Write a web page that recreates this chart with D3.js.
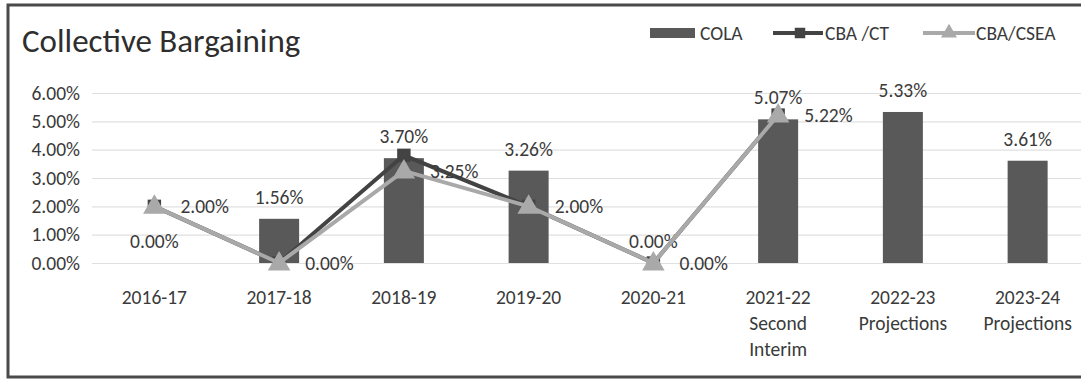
<!DOCTYPE html>
<html>
<head>
<meta charset="utf-8">
<script src="https://cdn.jsdelivr.net/npm/d3@7"></script>
<style>
  body { margin: 0; background: #fff; }
  text { font-family: Carlito, Lato, "Open Sans", sans-serif; fill: #3a3a3a; }
</style>
</head>
<body>
<div id="chart"></div>
<script>
const categories = [
  ['2016-17'], ['2017-18'], ['2018-19'], ['2019-20'], ['2020-21'],
  ['2021-22', 'Second', 'Interim'], ['2022-23', 'Projections'], ['2023-24', 'Projections']
]
const cola = [0.0, 1.56, 3.70, 3.26, 0.0, 5.07, 5.33, 3.61]
const cbaCT = [2.00, 0.00, 3.80, 2.00, 0.00, 5.22, null, null]
const cbaCSEA = [2.00, 0.00, 3.25, 2.00, 0.00, 5.22, null, null]
const yTicks = [0, 1, 2, 3, 4, 5, 6]

const dms = { width: 1081, height: 379 }
const plot = { left: 92, right: 1090, top: 93, bottom: 263 }
const fs = '19.5px'

const colors = { cola: '#595959', ct: '#434343', csea: '#a9a9a9' }

const svg = d3.select('#chart').append('svg')
    .attr('width', dms.width)
    .attr('height', dms.height)

// frame
svg.append('path')
    .attr('d', `M1081,5 H8 V377 H1081`)
    .attr('fill', 'none')
    .attr('stroke', '#4a4a4a')
    .attr('stroke-width', 3)

svg.append('text')
    .attr('x', 22)
    .attr('y', 52)
    .style('font-size', '33px')
    .style('fill', '#2e2e2e')
    .text('Collective Bargaining')

const xScale = d3.scaleBand()
    .domain(d3.range(categories.length))
    .range([plot.left, plot.right])

const yScale = d3.scaleLinear()
    .domain([0, 6])
    .range([plot.bottom, plot.top])

const fmt = v => v.toFixed(2) + '%'
const cx = i => xScale(i) + xScale.bandwidth() / 2

// gridlines + y labels
const yAxis = svg.append('g')
    .attr('transform', `translate(${plot.left},0)`)
    .call(d3.axisLeft(yScale).tickValues(yTicks).tickFormat(d => fmt(d))
        .tickSize(-(plot.right - plot.left)).tickPadding(12))
yAxis.select('.domain').remove()
yAxis.selectAll('.tick line').attr('stroke', '#e0e0e0').attr('stroke-width', 1.2)
yAxis.selectAll('.tick text').style('font-size', fs).attr('fill', '#3a3a3a')

// x labels
const xAxis = svg.append('g')
    .attr('transform', `translate(0,${plot.bottom})`)
    .call(d3.axisBottom(xScale).tickSize(0).tickFormat(''))
xAxis.select('.domain').remove()
xAxis.selectAll('.tick').each(function (i) {
  const t = d3.select(this).select('text')
      .style('font-size', fs)
      .attr('fill', '#3a3a3a')
      .attr('y', 0)
      .attr('dy', 0)
  categories[i].forEach((line, k) => {
    t.append('tspan').attr('x', 0).attr('y', 34 + k * 26).attr('dy', '0.35em').text(line)
  })
})

// bars
const barW = 40
svg.append('g').selectAll('rect')
    .data(cola)
    .join('rect')
    .attr('x', (d, i) => cx(i) - barW / 2)
    .attr('y', d => yScale(d))
    .attr('width', barW)
    .attr('height', d => yScale(0) - yScale(d))
    .attr('fill', colors.cola)

svg.append('g').selectAll('text')
    .data(cola)
    .join('text')
    .attr('x', (d, i) => cx(i))
    .attr('y', d => yScale(d) - 15)
    .attr('text-anchor', 'middle')
    .style('font-size', fs)
    .text(fmt)

// lines
const lineGen = d3.line()
    .defined(d => d != null)
    .x((d, i) => cx(i))
    .y(d => yScale(d))

const sq = d3.symbol().type(d3.symbolSquare).size(180)
const tri = d3.symbol().type(d3.symbolTriangle).size(220)

svg.append('path')
    .datum(cbaCT)
    .attr('d', lineGen)
    .attr('fill', 'none')
    .attr('stroke', colors.ct)
    .attr('stroke-width', 4)

svg.append('g').selectAll('path')
    .data(cbaCT.map((v, i) => [v, i]).filter(d => d[0] != null))
    .join('path')
    .attr('d', sq)
    .attr('transform', d => `translate(${cx(d[1])},${yScale(d[0])})`)
    .attr('fill', colors.ct)

svg.append('path')
    .datum(cbaCSEA)
    .attr('d', lineGen)
    .attr('fill', 'none')
    .attr('stroke', colors.csea)
    .attr('stroke-width', 4)

svg.append('g').selectAll('path')
    .data(cbaCSEA.map((v, i) => [v, i]).filter(d => d[0] != null))
    .join('path')
    .attr('d', tri)
    .attr('transform', d => `translate(${cx(d[1])},${yScale(d[0]) + 1})`)
    .attr('fill', colors.csea)

svg.append('g').selectAll('text')
    .data(cbaCSEA.map((v, i) => [v, i]).filter(d => d[0] != null))
    .join('text')
    .attr('x', d => cx(d[1]) + 26)
    .attr('y', d => yScale(d[0]))
    .attr('dy', '0.35em')
    .style('font-size', fs)
    .text(d => fmt(d[0]))

// legend
const legend = svg.append('g').style('font-size', fs)
legend.append('rect')
    .attr('x', 650).attr('y', 28).attr('width', 45).attr('height', 10)
    .attr('fill', colors.cola)
legend.append('text').attr('x', 700).attr('y', 33).attr('dy', '0.35em').text('COLA')

legend.append('line')
    .attr('x1', 773).attr('x2', 823).attr('y1', 33).attr('y2', 33)
    .attr('stroke', colors.ct).attr('stroke-width', 4)
legend.append('path')
    .attr('d', d3.symbol().type(d3.symbolSquare).size(110))
    .attr('transform', 'translate(800,33)')
    .attr('fill', colors.ct)
legend.append('text').attr('x', 825).attr('y', 33).attr('dy', '0.35em').text('CBA /CT')

legend.append('line')
    .attr('x1', 923).attr('x2', 975).attr('y1', 33).attr('y2', 33)
    .attr('stroke', colors.csea).attr('stroke-width', 4)
legend.append('path')
    .attr('d', d3.symbol().type(d3.symbolTriangle).size(110))
    .attr('transform', 'translate(949,33)')
    .attr('fill', colors.csea)
legend.append('text').attr('x', 976).attr('y', 33).attr('dy', '0.35em').text('CBA/CSEA')
</script>
</body>
</html>
